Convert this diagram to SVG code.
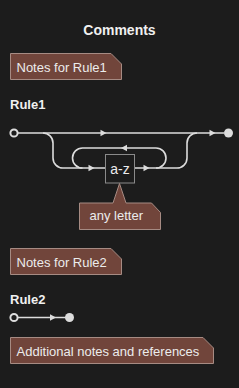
<svg xmlns="http://www.w3.org/2000/svg" width="239" height="388" viewBox="0 0 239 388">
<style>
.bg{fill:#1c1c1c}
.title{font-family:"Liberation Sans",Arial,sans-serif;font-weight:bold;font-size:14px;fill:#f0f0f0}
.rule{font-family:"Liberation Sans",Arial,sans-serif;font-weight:bold;font-size:13px;fill:#f0f0f0}
.ntext{font-family:"Liberation Sans",Arial,sans-serif;font-size:13px;fill:#ececec}
.note{fill:#71453b;stroke:#a68b83;stroke-width:1}
.track{fill:none;stroke:#dcdcdc;stroke-width:1.6}
.arr{fill:#dcdcdc}
.box{fill:#1c1c1c;stroke:#8a8a8a;stroke-width:1}
.term{font-family:"Liberation Sans",Arial,sans-serif;font-size:14px;fill:#ececec}
.start{fill:#1c1c1c;stroke:#dcdcdc;stroke-width:2}
.end{fill:#dcdcdc}
</style>
<defs>
<path id="a" d="M0 0 L-6 -3.2 L-6 3.2 Z"/>
</defs>
<rect class="bg" x="0" y="0" width="239" height="388"/>
<text class="title" x="119.5" y="35" text-anchor="middle">Comments</text>

<g id="note1">
<path class="note" d="M10.5 53.5 H111 L121.5 64 V79.5 H10.5 Z"/>
<text class="ntext" x="16.5" y="72">Notes for Rule1</text>
</g>

<g id="rule1-label"><text class="rule" x="10" y="109">Rule1</text></g>

<g id="connectors">
<path class="track" d="M18 133 H224"/>
<path class="track" d="M43 133 A10 10 0 0 1 53 143 V158 A10 10 0 0 0 63 168 H105"/>
<path class="track" d="M134 168 H177 A10 10 0 0 0 187 158 V143 A10 10 0 0 1 197 133"/>
<path class="track" d="M156 168 A10 10 0 0 0 166 158 A10 10 0 0 0 156 148 H82.5 A10 10 0 0 0 72.5 158 A10 10 0 0 0 82.5 168"/>
<use href="#a" class="arr" transform="translate(106.5 133)"/>
<use href="#a" class="arr" transform="translate(215.5 133)"/>
<use href="#a" class="arr" transform="translate(94.5 168)"/>
<use href="#a" class="arr" transform="translate(149.5 168)"/>
<use href="#a" class="arr" transform="translate(121 148) rotate(180)"/>
<path class="track" d="M18 317.5 H66"/>
<use href="#a" class="arr" transform="translate(56 317.5)"/>
</g>

<g id="rule1-start"><circle class="start" cx="14" cy="133" r="3.6"/></g>
<g id="rule1-end"><circle class="end" cx="228.5" cy="133" r="4.5"/></g>

<g id="az">
<rect class="box" x="105.5" y="154.5" width="29" height="28.5"/>
<text class="term" x="120" y="174" text-anchor="middle">a-z</text>
</g>

<g id="note-any">
<path class="note" d="M119.5 183.5 L113 203 H79.5 V229.5 H160.5 V212.5 L151.5 203 H126 Z"/>
<text class="ntext" x="89.5" y="219.5">any letter</text>
</g>

<g id="note2">
<path class="note" d="M10.5 248.5 H111 L121.5 259 V274.5 H10.5 Z"/>
<text class="ntext" x="16.5" y="267">Notes for Rule2</text>
</g>

<g id="rule2-label"><text class="rule" x="10" y="304">Rule2</text></g>
<g id="rule2-start"><circle class="start" cx="14" cy="317.5" r="3.6"/></g>
<g id="rule2-end"><circle class="end" cx="69.5" cy="317.5" r="4.5"/></g>

<g id="note3">
<path class="note" d="M10.5 337.5 H203 L213.5 348 V363.5 H10.5 Z"/>
<text class="ntext" x="16.5" y="356">Additional notes and references</text>
</g>
</svg>
